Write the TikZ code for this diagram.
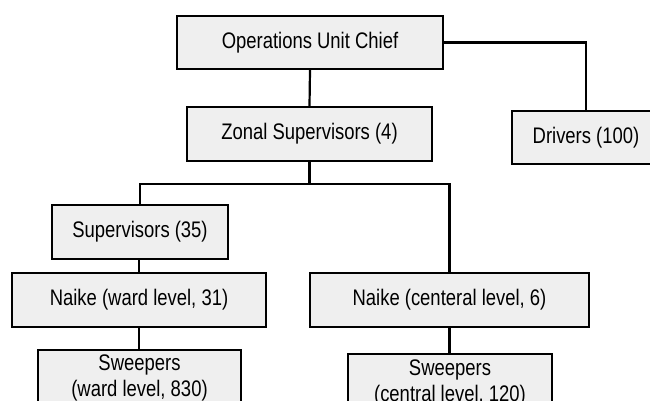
\documentclass[tikz,border=0pt]{standalone}
\usepackage{fontspec}
\setmainfont{Liberation Sans}[FakeStretch=0.82]
\definecolor{boxfill}{RGB}{239,239,239}
\begin{document}
\begin{tikzpicture}[x=1pt,y=-1pt,
  unit/.style={draw=black, line width=2.2pt, fill=boxfill, inner sep=0pt,
    align=center, font=\fontsize{22.5}{26}\selectfont},
  link/.style={line width=2.2pt}]
\useasboundingbox (0,0) rectangle (650,401);
\clip (0,0) rectangle (650,401);

% units
\node[unit, minimum width=266, minimum height=53] (chief) at (310,42.5) {Operations Unit Chief};
\node[unit, minimum width=245, minimum height=54] (zonal) at (309.5,134) {Zonal Supervisors (4)};
\node[unit, minimum width=148, minimum height=53] (drivers) at (586,137.5) {Drivers (100)};
\node[unit, minimum width=176, minimum height=54] (sup) at (140,232) {Supervisors (35)};
\node[unit, minimum width=254, minimum height=54] (nward) at (139,300) {Naike (ward level, 31)};
\node[unit, minimum width=279, minimum height=54] (ncent) at (449.5,300) {Naike (centeral level, 6)};
\node[unit, minimum width=203, minimum height=56] (sward) at (139.5,378) {Sweepers\\(ward level, 830)};
\node[unit, minimum width=204, minimum height=57] (scent) at (450,382.5) {Sweepers\\(central level, 120)};

% reporting lines
\coordinate (bus) at ([yshift=-22pt]zonal.south);
\draw[link] (chief.south) -- (zonal.north);
\draw[link] (chief.east) -| (drivers.north);
\draw[link] (zonal.south) -- (bus) -| (sup.north);
\draw[link] (bus) -| (ncent.north);
\draw[link] (sup.south -| nward.north) -- (nward.north);
\draw[link] (nward.south) -- (sward.north -| nward.south);
\draw[link] (ncent.south) -- (scent.north -| ncent.south);
\end{tikzpicture}
\end{document}
